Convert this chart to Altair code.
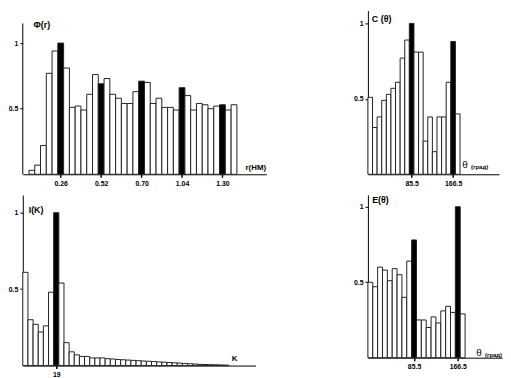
import altair as alt
import pandas as pd

# ---- data ----
phi_vals = [0.03, 0.07, 0.22, 0.77, 0.94, 1.0, 0.81, 0.51, 0.52, 0.49, 0.61, 0.76,
            0.69, 0.73, 0.61, 0.58, 0.54, 0.54, 0.63, 0.71, 0.70, 0.54, 0.58, 0.51,
            0.51, 0.49, 0.66, 0.60, 0.49, 0.54, 0.53, 0.50, 0.52, 0.53, 0.49, 0.53]
phi_black = [6, 13, 20, 27, 34]
phi_ticks = ["0.26", "0.52", "0.70", "1.04", "1.30"]

c_vals = [0.51, 0.31, 0.38, 0.49, 0.53, 0.57, 0.61, 0.77, 0.89, 1.0,
          0.81, 0.81, 0.22, 0.38, 0.15, 0.38, 0.38, 0.61, 0.88, 0.40]
c_black = [10, 19]
c_ticks = ["85.5", "166.5"]

ik_vals = [0.61, 0.30, 0.27, 0.22, 0.26, 0.48, 1.0, 0.54, 0.15, 0.09, 0.07, 0.06,
           0.06, 0.05, 0.05, 0.05, 0.045, 0.043, 0.04, 0.038, 0.036, 0.034, 0.032,
           0.030, 0.028, 0.026, 0.024, 0.022, 0.020, 0.018, 0.016, 0.014, 0.012,
           0.010, 0.008, 0.007, 0.006, 0.005, 0.004, 0.003]
ik_black = [7]
ik_ticks = ["19"]

e_vals = [0.50, 0.47, 0.60, 0.58, 0.51, 0.59, 0.55, 0.40, 0.64, 0.78,
          0.25, 0.25, 0.20, 0.27, 0.23, 0.31, 0.34, 0.30, 1.0, 0.29]
e_black = [10, 19]
e_ticks = ["85.5", "166.5"]

FONT = "Liberation Sans"


def panel(vals, black, ticks, width, height, xdom, ytop, texts, yrule=None):
    df = pd.DataFrame({"i": list(range(1, len(vals) + 1)), "v": vals})
    df["lo"] = df["i"] - 0.5
    df["hi"] = df["i"] + 0.5
    df["hl"] = df["i"].isin(black)
    label_expr = "[%s][indexof([%s], datum.value)]" % (
        ",".join("'%s'" % t for t in ticks), ",".join(str(b) for b in black))
    x = alt.X("lo:Q", scale=alt.Scale(domain=xdom, nice=False, zero=False),
              axis=alt.Axis(values=black, labelExpr=label_expr, title=None, grid=False,
                            tickSize=3, tickWidth=1.5, tickColor="black", domainColor="black",
                            labelFont=FONT, labelFontSize=7, labelFontWeight="bold",
                            labelColor="black", labelPadding=2))
    y = alt.Y("v:Q", scale=alt.Scale(domain=[0, ytop], nice=False),
              axis=alt.Axis(values=[0.5, 1], labelExpr="datum.value == 1 ? '1' : '0.5'",
                            title=None, grid=False, tickSize=3, tickColor="black",
                            domain=yrule is None, domainColor="black",
                            labelFont=FONT, labelFontSize=7, labelFontWeight="bold",
                            labelColor="black", labelPadding=2))
    bars = alt.Chart(df).mark_bar(stroke="#222", strokeWidth=1).encode(
        x=x, x2="hi", y=y, y2=alt.datum(0),
        fill=alt.condition("datum.hl", alt.value("black"), alt.value("white")))
    layers = [bars]
    if yrule is not None:
        rdf = pd.DataFrame({"y0": [0], "y1": [yrule]})
        layers.append(alt.Chart(rdf).mark_rule(color="black", strokeWidth=1).encode(
            x=alt.value(0), y="y0:Q", y2="y1:Q"))
    for (tx, ty, t, size, weight) in texts:
        tdf = pd.DataFrame({"x": [tx], "y": [ty], "t": [t]})
        layers.append(alt.Chart(tdf).mark_text(
            align="left", baseline="middle", font=FONT, fontSize=size,
            fontWeight=weight, color="black").encode(x="x:Q", y="y:Q", text="t:N"))
    return alt.layer(*layers).properties(width=width, height=height)


p1 = panel(phi_vals, phi_black, phi_ticks, 247, 166, [-0.57, 41.6], 1.248,
           [(1.3, 1.14, "Φ(r)", 9, "bold"), (38.0, 0.045, "r(НМ)", 8, "bold")],
           yrule=1.15)
p2 = panel(c_vals, c_black, c_ticks, 133, 166, [0.5, 28.98], 1.085,
           [(1.36, 1.03, "C (θ)", 9, "bold"), (21.0, 0.06, "θ", 10, "normal"),
            (22.9, 0.05, "(град)", 6, "bold")])
p3 = panel(ik_vals, ik_black, ik_ticks, 236, 173, [0.5, 45.7], 1.116,
           [(1.65, 1.02, "I(K)", 9, "bold"), (41.1, 0.04, "K", 8, "bold")])
p4 = panel(e_vals, e_black, e_ticks, 136, 165, [0.5, 28.1], 1.078,
           [(1.37, 1.046, "E(θ)", 9, "bold"), (22.8, 0.03, "θ", 10, "normal"),
            (24.6, 0.02, "(град)", 6, "bold")])

chart = alt.concat(p1, p2, p3, p4, columns=2,
                   spacing=alt.RowColnumber(row=21, column=103),
                   bounds="flush").properties(padding=0).configure_view(stroke=None)

chart.save("out.html", embed_options={"renderer": "svg", "actions": False})
